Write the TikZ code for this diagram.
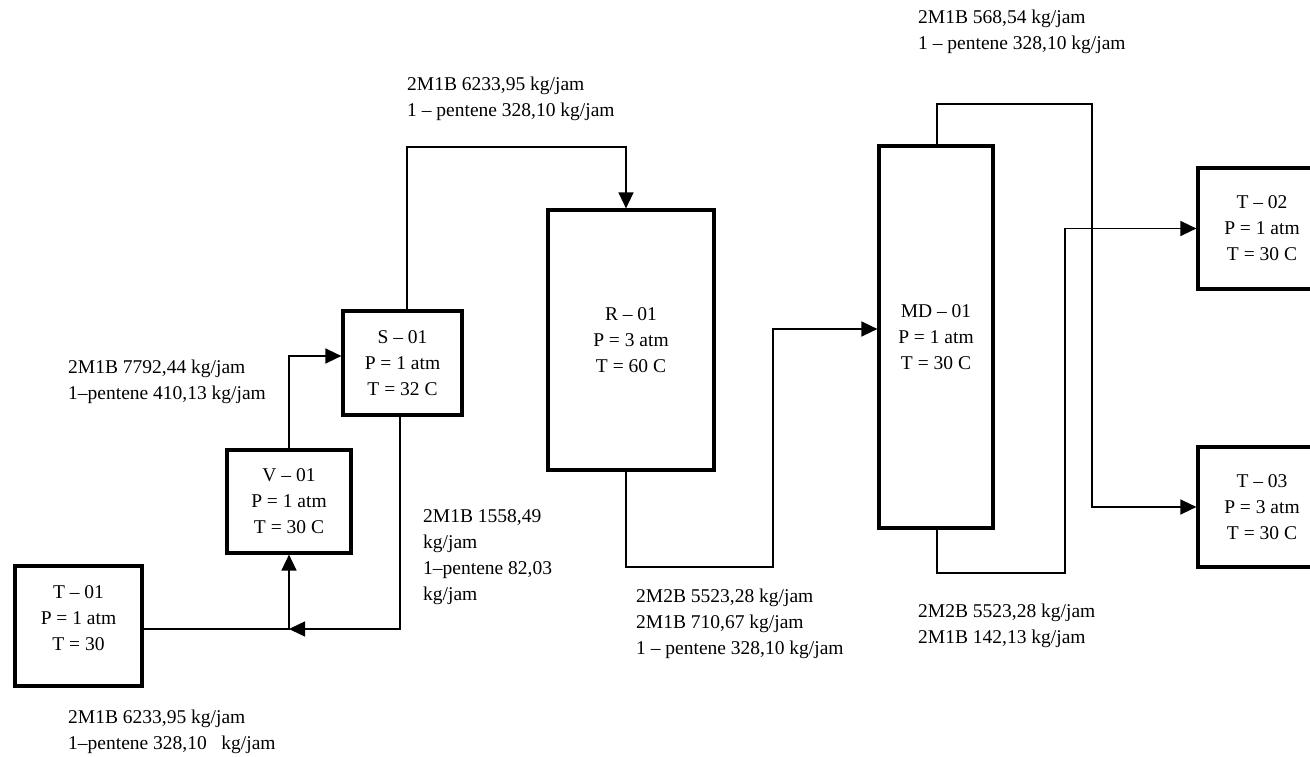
\documentclass[tikz,border=0pt]{standalone}
\usepackage{fontspec}
\setmainfont{Liberation Serif}
\usetikzlibrary{arrows.meta,calc}
\begin{document}
\begin{tikzpicture}[x=1pt,y=-1pt,
  box/.style={draw, line width=3.2pt, inner sep=0pt, align=center, font=\fontsize{19.5}{26}\selectfont},
  txt/.style={inner sep=0pt, align=center, font=\fontsize{19.5}{26}\selectfont},
  lbl/.style={anchor=north west, inner sep=0pt, align=left, font=\fontsize{19.5}{26}\selectfont},
  flow/.style={line width=1.5pt, -{Triangle[length=16pt,width=15pt]}}]
\clip (0,0) rectangle (1310,757);
\fill[white] (0,0) rectangle (1310,757);
% equipment
\node[box, minimum width=127pt, minimum height=120pt] (t01) at (78.5,626) {};
\node[txt] (t01txt) at (78.5,618) {T – 01\\P = 1 atm\\T = 30};
\node[box, minimum width=124pt, minimum height=103pt] (v01) at (289,501.5) {V – 01\\P = 1 atm\\T = 30 C};
\node[box, minimum width=119pt, minimum height=104pt] (s01) at (402.5,363) {S – 01\\P = 1 atm\\T = 32 C};
\node[box, minimum width=166pt, minimum height=260pt] (r01) at (631,340) {R – 01\\P = 3 atm\\T = 60 C};
\node[box, minimum width=114pt, minimum height=382pt] (md01) at (936,337) {MD – 01\\P = 1 atm\\T = 30 C};
\node[box, minimum width=128pt, minimum height=121pt] (t02) at (1262,228.5) {T – 02\\P = 1 atm\\T = 30 C};
\node[box, minimum width=128pt, minimum height=120pt] (t03) at (1262,507) {T – 03\\P = 3 atm\\T = 30 C};
% connectors
\coordinate (j1) at ([yshift=-3pt]v01.south |- t01.east);
\draw[flow] ([yshift=-3pt]t01.east) -| (v01.south);
\draw[flow] ([xshift=-2.5pt]s01.south) |- (j1);
\draw[flow] (v01.north) |- ([yshift=7pt]s01.west);
\coordinate (c1) at (626,147);
\draw[flow] ([xshift=4.5pt]s01.north) |- (c1) -- (c1 |- r01.north);
\coordinate (c2) at (773,567);
\draw[flow] ([xshift=-5pt]r01.south) |- (c2) |- ([yshift=8pt]md01.west);
\coordinate (c3) at (1092,104);
\draw[flow] ([xshift=1pt]md01.north) |- (c3) |- (t03.west);
\coordinate (c4) at (1065,573);
\draw[flow] ([xshift=1pt]md01.south) |- (c4) |- (t02.west);
% stream labels
\node[lbl] (l1) at (68,710) {2M1B 6233,95 kg/jam\\1–pentene 328,10\ \ \ kg/jam};
\node[lbl] (l2) at (68,360) {2M1B 7792,44 kg/jam\\1–pentene 410,13 kg/jam};
\node[lbl] (l3) at (423,509) {2M1B 1558,49\\kg/jam\\1–pentene 82,03\\kg/jam};
\node[lbl] (l4) at (407,77) {2M1B 6233,95 kg/jam\\1 – pentene 328,10 kg/jam};
\node[lbl] (l5) at (636,589) {2M2B 5523,28 kg/jam\\2M1B 710,67 kg/jam\\1 – pentene 328,10 kg/jam};
\node[lbl] (l6) at (918,10) {2M1B 568,54 kg/jam\\1 – pentene 328,10 kg/jam};
\node[lbl] (l7) at (918,604) {2M2B 5523,28 kg/jam\\2M1B 142,13 kg/jam};
\end{tikzpicture}
\end{document}
